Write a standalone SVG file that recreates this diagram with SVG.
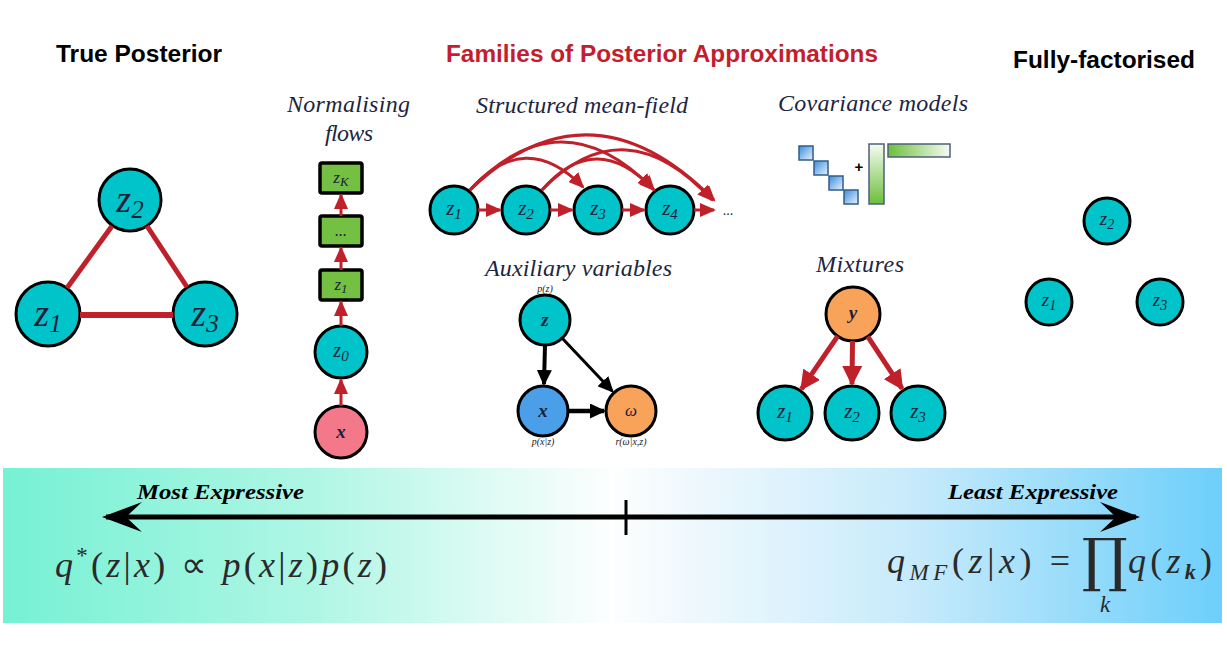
<svg xmlns="http://www.w3.org/2000/svg" width="1227" height="659" viewBox="0 0 1227 659">
<style>
.hdr{font-family:"Liberation Sans",Arial,sans-serif;font-weight:bold;font-size:23px;fill:#000}
.hdr-red{fill:#c41e2e}
.ttl{font-family:"Liberation Serif","Times New Roman",serif;font-style:italic;font-size:24px;fill:#1c2541}
.n{fill:#00c4c9;stroke:#000;stroke-width:3}
.box{fill:#74c043;stroke:#000;stroke-width:3.5}
.pink{fill:#f2788a;stroke:#000;stroke-width:3}
.blue{fill:#4a9fe8;stroke:#000;stroke-width:3}
.orange{fill:#f8a25a;stroke:#000;stroke-width:3}
.lbl{font-family:"Liberation Serif","Times New Roman",serif;font-style:italic;fill:#1a1f3a;text-anchor:middle}
.tiny{font-family:"Liberation Serif","Times New Roman",serif;font-style:italic;font-size:10px;fill:#222;text-anchor:middle}
.red{stroke:#c0202a;fill:none}
.blk{stroke:#000;fill:none}
.math{font-family:"Liberation Serif","Times New Roman",serif;fill:#2a2a2a}
.mi{font-style:italic}
.expr{font-family:"Liberation Serif","Times New Roman",serif;font-style:italic;font-weight:bold;font-size:20px;fill:#000}
.sq{fill:url(#sqGrad);stroke:#2f5c8a;stroke-width:1.5}
</style>
<defs>
<linearGradient id="barGrad" x1="0" y1="0" x2="1" y2="0">
<stop offset="0" stop-color="#76f1d4"/>
<stop offset="0.25" stop-color="#aef6e4"/>
<stop offset="0.5" stop-color="#fdfefe"/>
<stop offset="0.75" stop-color="#c6eafb"/>
<stop offset="1" stop-color="#6dcffa"/>
</linearGradient>
<linearGradient id="sqGrad" x1="0" y1="0" x2="1" y2="1">
<stop offset="0" stop-color="#3a8ddc"/>
<stop offset="1" stop-color="#e8f3fc"/>
</linearGradient>
<linearGradient id="vGrad" x1="0" y1="0" x2="0" y2="1">
<stop offset="0" stop-color="#f6fbf2"/>
<stop offset="1" stop-color="#6cbf3a"/>
</linearGradient>
<linearGradient id="hGrad" x1="0" y1="0" x2="1" y2="0">
<stop offset="0" stop-color="#6cbf3a"/>
<stop offset="1" stop-color="#f6fbf2"/>
</linearGradient>
<marker id="ar" viewBox="0 0 16 14" markerWidth="16" markerHeight="14" refX="14" refY="7" orient="auto" markerUnits="userSpaceOnUse"><path d="M0,0 L16,7 L0,14 z" fill="#c0202a"/></marker>
<marker id="arBig" viewBox="0 0 20 20" markerWidth="20" markerHeight="20" refX="18" refY="10" orient="auto" markerUnits="userSpaceOnUse"><path d="M0,0 L20,10 L0,20 z" fill="#c0202a"/></marker>
<marker id="ab" viewBox="0 0 16 15" markerWidth="16" markerHeight="15" refX="14" refY="7.5" orient="auto" markerUnits="userSpaceOnUse"><path d="M0,0 L16,7.5 L0,15 z" fill="#000"/></marker>
<marker id="stealth" viewBox="0 0 40 30" markerWidth="40" markerHeight="30" refX="36" refY="15" orient="auto-start-reverse" markerUnits="userSpaceOnUse"><path d="M0,0 L40,15 L0,30 L16,15 z" fill="#000"/></marker>
</defs>

<rect x="0" y="0" width="1227" height="659" fill="#fff"/>

<!-- Headers -->
<text class="hdr" x="56" y="62" textLength="166" lengthAdjust="spacingAndGlyphs">True Posterior</text>
<text class="hdr hdr-red" x="446" y="62" textLength="432" lengthAdjust="spacingAndGlyphs">Families of Posterior Approximations</text>
<text class="hdr" x="1013" y="68" textLength="182" lengthAdjust="spacingAndGlyphs">Fully-factorised</text>

<!-- Section titles -->
<text class="ttl" x="287" y="112" textLength="123">Normalising</text>
<text class="ttl" x="325" y="141" textLength="48">flows</text>
<text class="ttl" x="476" y="113" textLength="212">Structured mean-field</text>
<text class="ttl" x="778" y="111" textLength="190">Covariance models</text>
<text class="ttl" x="485" y="276" textLength="187">Auxiliary variables</text>
<text class="ttl" x="816" y="272" textLength="88">Mixtures</text>

<!-- Bottom bar -->
<g id="scale">
<rect x="3" y="468" width="1219" height="155" fill="url(#barGrad)"/>
<text class="expr" x="137" y="499" textLength="167" lengthAdjust="spacingAndGlyphs">Most Expressive</text>
<text class="expr" x="948" y="499" textLength="170" lengthAdjust="spacingAndGlyphs">Least Expressive</text>
<line x1="106" y1="517" x2="1136" y2="517" stroke="#000" stroke-width="5" marker-start="url(#stealth)" marker-end="url(#stealth)"/>
<line x1="626" y1="500" x2="626" y2="535" stroke="#000" stroke-width="3"/>
<text class="math" x="55" y="577" style="font-size:36px" textLength="332"><tspan class="mi">q</tspan><tspan style="font-size:23px" dy="-14">*</tspan><tspan dy="14">(</tspan><tspan class="mi">z</tspan>|<tspan class="mi">x</tspan>) ∝ <tspan class="mi">p</tspan>(<tspan class="mi">x</tspan>|<tspan class="mi">z</tspan>)<tspan class="mi">p</tspan>(<tspan class="mi">z</tspan>)</text>
<text class="math" x="887" y="573" style="font-size:36px" textLength="183"><tspan class="mi">q</tspan><tspan class="mi" style="font-size:23px" dy="7">MF</tspan><tspan dy="-7">(</tspan><tspan class="mi">z</tspan>|<tspan class="mi">x</tspan>) =</text>
<text x="1105" y="580" font-family="'DejaVu Serif',serif" font-size="58" fill="#2a2a2a" text-anchor="middle">∏</text>
<text class="math" x="1128" y="573" style="font-size:36px" textLength="84"><tspan class="mi">q</tspan>(<tspan class="mi">z</tspan><tspan class="mi" style="font-size:22px;font-weight:bold" dy="6">k</tspan><tspan dy="-6">)</tspan></text>
<text class="math mi" x="1105" y="612" style="font-size:23px" text-anchor="middle">k</text>
</g>

<!-- Nodes: True Posterior -->
<g id="tp-z2"><circle class="n" cx="130" cy="200" r="31"/><text class="lbl" x="130" y="212" style="font-size:38px">z<tspan style="font-size:25px" dy="6">2</tspan></text></g>
<g id="tp-z1"><circle class="n" cx="48" cy="314" r="32"/><text class="lbl" x="48" y="326" style="font-size:38px">z<tspan style="font-size:25px" dy="6">1</tspan></text></g>
<g id="tp-z3"><circle class="n" cx="205" cy="314" r="32"/><text class="lbl" x="205" y="326" style="font-size:38px">z<tspan style="font-size:25px" dy="6">3</tspan></text></g>

<!-- Normalising flows -->
<g id="nf-zK"><rect class="box" x="320" y="163" width="42" height="30" rx="2"/><text class="lbl" x="341" y="183" style="font-size:17px">z<tspan style="font-size:13px" dy="3">K</tspan></text></g>
<g id="nf-dots"><rect class="box" x="320" y="216" width="42" height="30" rx="2"/><text class="lbl" x="341" y="236" style="font-size:16px">...</text></g>
<g id="nf-z1"><rect class="box" x="320" y="270" width="42" height="30" rx="2"/><text class="lbl" x="341" y="290" style="font-size:17px">z<tspan style="font-size:13px" dy="3">1</tspan></text></g>
<g id="nf-z0"><circle class="n" cx="341" cy="352" r="26"/><text class="lbl" x="341" y="357" style="font-size:20px">z<tspan style="font-size:15px" dy="4">0</tspan></text></g>
<g id="nf-x"><circle class="pink" cx="341" cy="432" r="26"/><text class="lbl" x="341" y="438" style="font-size:19px;font-weight:bold">x</text></g>

<!-- Structured mean-field -->
<g id="smf-z1"><circle class="n" cx="454" cy="210" r="24"/><text class="lbl" x="454" y="215" style="font-size:21px">z<tspan style="font-size:15px" dy="4">1</tspan></text></g>
<g id="smf-z2"><circle class="n" cx="526" cy="210" r="24"/><text class="lbl" x="526" y="215" style="font-size:21px">z<tspan style="font-size:15px" dy="4">2</tspan></text></g>
<g id="smf-z3"><circle class="n" cx="598" cy="210" r="24"/><text class="lbl" x="598" y="215" style="font-size:21px">z<tspan style="font-size:15px" dy="4">3</tspan></text></g>
<g id="smf-z4"><circle class="n" cx="670" cy="210" r="24"/><text class="lbl" x="670" y="215" style="font-size:21px">z<tspan style="font-size:15px" dy="4">4</tspan></text></g>
<g id="smf-more"><text class="lbl" x="728" y="215" style="font-size:14px;font-style:normal">...</text></g>

<!-- Covariance models -->
<g id="cov">
<rect class="sq" x="799" y="146" width="14" height="14"/>
<rect class="sq" x="814" y="161" width="14" height="14"/>
<rect class="sq" x="829" y="176" width="14" height="14"/>
<rect class="sq" x="844" y="190" width="14" height="14"/>
<text x="859" y="172" font-family="'Liberation Sans',Arial,sans-serif" font-weight="bold" font-size="15" fill="#000" text-anchor="middle">+</text>
<rect x="869" y="144" width="15" height="60" fill="url(#vGrad)" stroke="#4c6078" stroke-width="1.5"/>
<rect x="888" y="144" width="62" height="13" fill="url(#hGrad)" stroke="#4c6078" stroke-width="1.5"/>
</g>

<!-- Auxiliary variables -->
<g id="aux-z"><circle class="n" cx="545" cy="320" r="25"/><text class="lbl" x="545" y="326" style="font-size:19px;font-weight:bold">z</text><text class="tiny" x="545" y="292">p(z)</text></g>
<g id="aux-x"><circle class="blue" cx="543" cy="411" r="25"/><text class="lbl" x="543" y="417" style="font-size:19px;font-weight:bold">x</text><text class="tiny" x="543" y="445">p(x|z)</text></g>
<g id="aux-w"><circle class="orange" cx="631" cy="411" r="25"/><text class="lbl" x="631" y="416" style="font-size:17px">ω</text><text class="tiny" x="631" y="445">r(ω|x,z)</text></g>

<!-- Mixtures -->
<g id="mix-y"><circle class="orange" cx="853" cy="314" r="27"/><text class="lbl" x="853" y="319" style="font-size:19px;font-weight:bold">y</text></g>
<g id="mix-z1"><circle class="n" cx="785" cy="413" r="27"/><text class="lbl" x="785" y="418" style="font-size:21px">z<tspan style="font-size:15px" dy="4">1</tspan></text></g>
<g id="mix-z2"><circle class="n" cx="852" cy="413" r="27"/><text class="lbl" x="852" y="418" style="font-size:21px">z<tspan style="font-size:15px" dy="4">2</tspan></text></g>
<g id="mix-z3"><circle class="n" cx="918" cy="413" r="27"/><text class="lbl" x="918" y="418" style="font-size:21px">z<tspan style="font-size:15px" dy="4">3</tspan></text></g>

<!-- Fully-factorised -->
<g id="ff-z2"><circle class="n" cx="1107" cy="221" r="23"/><text class="lbl" x="1107" y="225" style="font-size:19px">z<tspan style="font-size:14px" dy="4">2</tspan></text></g>
<g id="ff-z1"><circle class="n" cx="1049" cy="302" r="23"/><text class="lbl" x="1049" y="306" style="font-size:19px">z<tspan style="font-size:14px" dy="4">1</tspan></text></g>
<g id="ff-z3"><circle class="n" cx="1160" cy="302" r="23"/><text class="lbl" x="1160" y="306" style="font-size:19px">z<tspan style="font-size:14px" dy="4">3</tspan></text></g>

<!-- Connectors -->
<g id="connectors">
<line class="red" x1="67" y1="288" x2="112" y2="226" stroke-width="5"/>
<line class="red" x1="147" y1="226" x2="187" y2="287" stroke-width="5"/>
<line class="red" x1="80" y1="315" x2="173" y2="315" stroke-width="6"/>

<line class="red" x1="341" y1="406" x2="341" y2="380" stroke-width="3" marker-end="url(#ar)"/>
<line class="red" x1="341" y1="326" x2="341" y2="302" stroke-width="3" marker-end="url(#ar)"/>
<line class="red" x1="341" y1="270" x2="341" y2="248" stroke-width="3" marker-end="url(#ar)"/>
<line class="red" x1="341" y1="216" x2="341" y2="195" stroke-width="3" marker-end="url(#ar)"/>

<line class="red" x1="478" y1="210" x2="500" y2="210" stroke-width="3" marker-end="url(#ar)"/>
<line class="red" x1="550" y1="210" x2="572" y2="210" stroke-width="3" marker-end="url(#ar)"/>
<line class="red" x1="622" y1="210" x2="644" y2="210" stroke-width="3" marker-end="url(#ar)"/>
<line class="red" x1="694" y1="210" x2="714" y2="210" stroke-width="3" marker-end="url(#ar)"/>
<path class="red" d="M470,190 Q525,128 583,187" stroke-width="3" marker-end="url(#ar)"/>
<path class="red" d="M470,190 Q560,95 652,188" stroke-width="3" marker-end="url(#ar)"/>
<path class="red" d="M470,190 Q590,75 714,200" stroke-width="3" marker-end="url(#ar)"/>
<path class="red" d="M542,190 Q596,128 654,190" stroke-width="3" marker-end="url(#ar)"/>
<path class="red" d="M542,190 Q625,105 712,200" stroke-width="3" marker-end="url(#ar)"/>

<line class="blk" x1="545" y1="345" x2="544" y2="384" stroke-width="4" marker-end="url(#ab)"/>
<line class="blk" x1="568" y1="411" x2="604" y2="411" stroke-width="4.5" marker-end="url(#ab)"/>
<line class="blk" x1="562" y1="338" x2="612.4" y2="391.3" stroke-width="3" marker-end="url(#ab)"/>

<line class="red" x1="837.7" y1="336.2" x2="801.4" y2="389.1" stroke-width="5" marker-end="url(#arBig)"/>
<line class="red" x1="852.5" y1="341" x2="852" y2="384" stroke-width="5" marker-end="url(#arBig)"/>
<line class="red" x1="867.8" y1="336.6" x2="902.1" y2="388.7" stroke-width="5" marker-end="url(#arBig)"/>
</g>
</svg>
